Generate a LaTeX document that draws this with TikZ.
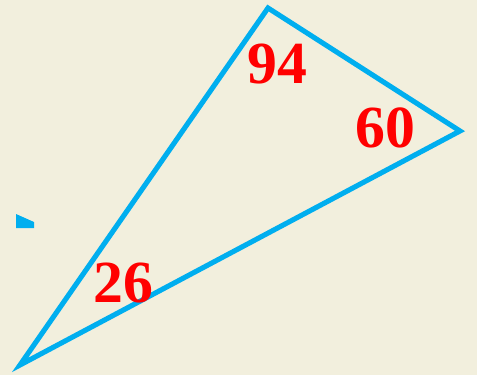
\documentclass[tikz,border=0pt]{standalone}
\usepackage{fontspec}
\setmainfont{Liberation Serif}
\usepackage{xcolor}
\definecolor{paperBeige}{HTML}{F2EFDD}
\definecolor{sideBlue}{HTML}{00AEEF}
\definecolor{angleRed}{HTML}{FF0000}
\tikzset{
  side/.style={draw=sideBlue, line width=2.9pt, line join=miter},
  tick/.style={fill=sideBlue, draw=none},
  angleLabel/.style={text=angleRed, inner sep=0pt, font=\fontsize{34}{38}\selectfont\bfseries}
}

\begin{document}
\begin{tikzpicture}[x=0.02cm,y=-0.02cm]

% --------------------------------------------------------------------------
% Background
% --------------------------------------------------------------------------
\fill[paperBeige] (0,0) rectangle (477,375);
\useasboundingbox (0,0) rectangle (477,375);

% --------------------------------------------------------------------------
% Triangle
% --------------------------------------------------------------------------
\coordinate (top) at (268,8);
\coordinate (right) at (460,131);
\coordinate (low) at (20,365);
\draw[side] (top) -- (right) -- (low) -- cycle;

\fill[tick] (16,214) -- (34,222) -- (34,228) -- (16,228) -- cycle;

% --------------------------------------------------------------------------
% Angles
% --------------------------------------------------------------------------
\node[angleLabel] (aTop) at (277,64) {94};
\node[angleLabel] (aRight) at (385,128) {60};
\node[angleLabel] (aLow) at (123,283) {26};

\end{tikzpicture}
\end{document}
